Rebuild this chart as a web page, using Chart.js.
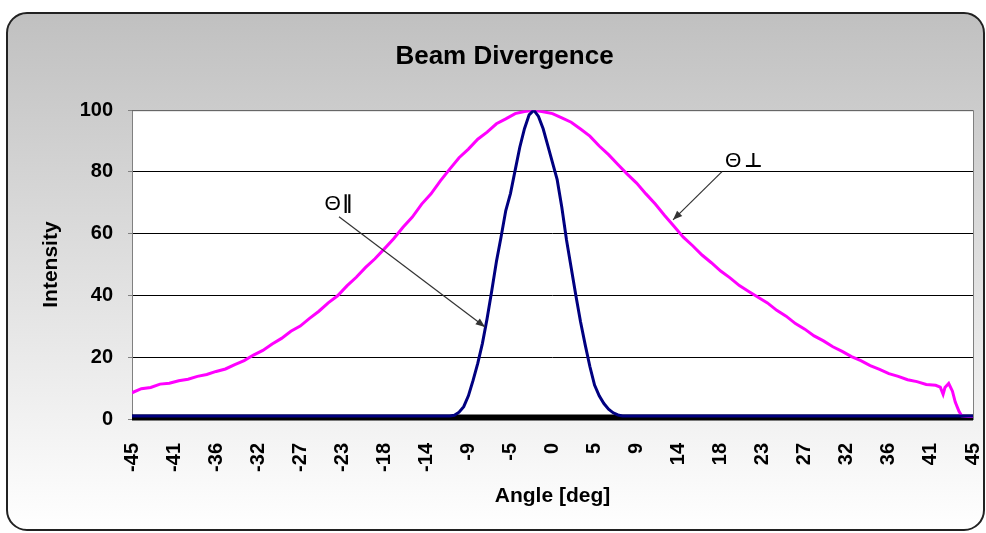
<!DOCTYPE html>
<html><head><meta charset="utf-8">
<script src="https://cdn.jsdelivr.net/npm/chart.js@4.4.1/dist/chart.umd.min.js"></script>
<style>html,body{margin:0;padding:0;background:#fff}canvas{display:block}</style>
</head><body>
<canvas id="c" width="986" height="533" style="width:986px;height:533px"></canvas>
<script>
// ---- chart texts ----
const chartTitle = 'Beam Divergence';
const xAxisTitle = 'Angle [deg]';
const yAxisTitle = 'Intensity';

// ---- tick labels ----
const xTickValues = [-45,-40.5,-36,-31.5,-27,-22.5,-18,-13.5,-9,-4.5,0,4.5,9,13.5,18,22.5,27,31.5,36,40.5,45];
const xTickLabels = ['-45','-41','-36','-32','-27','-23','-18','-14','-9','-5','0','5','9','14','18','23','27','32','36','41','45'];
const yTickValues = [0,20,40,60,80,100];

// ---- series: Θ⊥ (perpendicular, magenta) ----
const perpAngles = [-45,-44,-43,-42,-41,-40,-39,-38,-37,-36,-35,-34,-33,-32,-31,-30,-29,-28,-27,-26,-25,-24,-23,-22,-21,-20,-19,-18,-17,-16,-15,-14,-13,-12,-11,-10,-9,-8,-7,-6,-5,-4,-3,-2,-1,0,1,2,3,4,5,6,7,8,9,10,11,12,13,14,15,16,17,18,19,20,21,22,23,24,25,26,27,28,29,30,31,32,33,34,35,36,37,38,39,40,41,41.5,41.8,42,42.4,42.8,43.1,43.5,43.8,44.5,45];
const perpValues = [8.5,9.8,10.2,11.3,11.6,12.4,12.9,13.8,14.4,15.4,16.2,17.6,18.9,20.7,22.2,24.3,26.1,28.4,30.1,32.6,34.9,37.6,39.9,43.1,45.9,49.1,51.9,55.1,58.4,62.1,65.4,69.6,72.9,77.1,80.9,84.6,87.4,90.6,92.9,95.6,97.2,98.9,99.6,100,99.5,98.9,97.5,96.1,93.9,91.6,88.4,85.6,82.4,79.3,76.4,72.9,69.6,65.9,62.4,58.9,56.1,53.1,50.6,47.9,45.7,43.2,41.3,39.4,37.6,35.2,33.3,30.9,29.1,26.9,25.3,23.4,21.9,20.2,18.9,17.3,16.1,14.7,13.8,12.7,12.1,11.2,10.9,10.3,8.0,10.2,11.5,9.0,5.5,2.5,1.0,0.8,0.8];

// ---- series: Θ∥ (parallel, navy) ----
const parAngles = [-45,-35,-25,-15,-11,-10.5,-10,-9.5,-9,-8.5,-8,-7.5,-7,-6.5,-6,-5.5,-5,-4.5,-4,-3.5,-3,-2.5,-2,-1.5,-1,-0.5,0,0.5,1,1.5,2,2.5,3,3.5,4,4.5,5,5.5,6,6.5,7,7.5,15,25,35,45];
const parValues = [1.0,1.0,1.0,1.0,1.0,1.2,2.2,4.0,7.5,12.5,18.0,24.5,32.5,41.5,51.0,59.0,67.5,73.0,80.5,88.0,94.0,98.5,100,98.0,94.0,88.5,83.0,77.5,68.5,58.0,49.0,40.0,31.5,24.0,17.0,11.0,7.5,5.0,3.2,2.0,1.3,1.0,1.0,1.0,1.0,1.0];

// ---- annotation texts ----
const annoSymbol = 'Θ';
const annoParSub = '∥';
const annoPerpSub = '⊥';

const FONT = "'Liberation Sans', Arial, sans-serif";

const annotations = [
  {sub: annoParSub, text: {x: -24.4, y: 69.7}, from: {x: -22.85, y: 65.5}, to: {x: -7.22, y: 29.8}, subDx: 18, subDy: 0, subFont: "bold 19px 'DejaVu Sans', sans-serif"},
  {sub: annoPerpSub, text: {x: 18.46, y: 83.5}, from: {x: 18.14, y: 80.1}, to: {x: 12.9, y: 64.5}, subDx: 19, subDy: 1, subFont: "bold 20px 'DejaVu Sans', sans-serif"}
];

const bgPlugin = {
  id: 'bg',
  beforeDraw(chart) {
    const {ctx, chartArea: a} = chart;
    ctx.save();
    const x0 = 7, y0 = 13, x1 = 984, y1 = 530, r = 20;
    const g = ctx.createLinearGradient(0, y0, 0, y1);
    g.addColorStop(0, '#c0c0c0');
    g.addColorStop(1, '#ffffff');
    ctx.beginPath();
    ctx.roundRect(x0, y0, x1 - x0, y1 - y0, r);
    ctx.fillStyle = g;
    ctx.fill();
    ctx.lineWidth = 2;
    ctx.strokeStyle = '#222';
    ctx.stroke();
    ctx.fillStyle = '#ffffff';
    ctx.fillRect(a.left, a.top, a.right - a.left, a.bottom - a.top);
    ctx.restore();
  },
  beforeDatasetsDraw(chart) {
    const {ctx, chartArea: a} = chart;
    const ys = chart.scales.y;
    ctx.save();
    ctx.strokeStyle = '#808080';
    ctx.lineWidth = 1;
    ctx.strokeRect(a.left + 0.5, a.top + 0.5, a.right - a.left, a.bottom - a.top);
    const z = ys.getPixelForValue(0);
    ctx.fillStyle = '#000';
    ctx.fillRect(a.left, z - 4.5, a.right - a.left, 6);
    ctx.restore();
  }
};

const annoPlugin = {
  id: 'anno',
  afterDatasetsDraw(chart) {
    const {ctx} = chart;
    const xs = chart.scales.x, ys = chart.scales.y;
    ctx.save();
    annotations.forEach(an => {
      const fx = xs.getPixelForValue(an.from.x), fy = ys.getPixelForValue(an.from.y);
      const tx = xs.getPixelForValue(an.to.x), ty = ys.getPixelForValue(an.to.y);
      ctx.strokeStyle = '#333';
      ctx.fillStyle = '#333';
      ctx.lineWidth = 1.2;
      ctx.beginPath();
      ctx.moveTo(fx, fy);
      ctx.lineTo(tx, ty);
      ctx.stroke();
      const ang = Math.atan2(ty - fy, tx - fx);
      const L = 10, W = 0.38;
      ctx.beginPath();
      ctx.moveTo(tx, ty);
      ctx.lineTo(tx - L * Math.cos(ang - W), ty - L * Math.sin(ang - W));
      ctx.lineTo(tx - L * Math.cos(ang + W), ty - L * Math.sin(ang + W));
      ctx.closePath();
      ctx.fill();
      const px = xs.getPixelForValue(an.text.x), py = ys.getPixelForValue(an.text.y);
      ctx.fillStyle = '#000';
      ctx.textBaseline = 'middle';
      ctx.textAlign = 'left';
      ctx.font = '21px ' + FONT;
      ctx.fillText(annoSymbol, px, py);
      ctx.font = an.subFont;
      ctx.fillText(an.sub, px + an.subDx, py + an.subDy);
    });
    ctx.restore();
  }
};

const toPts = (xs, ys) => xs.map((x, i) => ({x: x, y: ys[i]}));

new Chart(document.getElementById('c'), {
  type: 'line',
  data: {
    datasets: [
      {label: 'Θ∥', data: toPts(parAngles, parValues), borderColor: '#000080', borderWidth: 3, pointRadius: 0, tension: 0, fill: false},
      {label: 'Θ⊥', data: toPts(perpAngles, perpValues), borderColor: '#ff00ff', borderWidth: 3, pointRadius: 0, tension: 0, fill: false}
    ]
  },
  options: {
    responsive: false,
    animation: false,
    devicePixelRatio: 1,
    layout: {padding: {left: 36, right: 13, top: 0, bottom: 0}},
    plugins: {
      legend: {display: false},
      tooltip: {enabled: false},
      title: {display: true, text: chartTitle, color: '#000', font: {family: FONT, size: 26, weight: 'bold'}, padding: {top: 41, bottom: 38}}
    },
    scales: {
      x: {
        type: 'linear', min: -45, max: 45,
        afterBuildTicks: s => { s.ticks = xTickValues.map(v => ({value: v})); },
        afterFit: s => { s.height = 114; s.paddingRight = 0; s.paddingLeft = 0; },
        grid: {display: false, drawTicks: false},
        border: {display: false},
        ticks: {
          autoSkip: false, maxRotation: 90, minRotation: 90, padding: 24,
          color: '#000', font: {family: FONT, size: 20, weight: 'bold'},
          callback: (v, i) => xTickLabels[i]
        },
        title: {display: true, text: xAxisTitle, color: '#000', font: {family: FONT, size: 21, weight: 'bold'}, padding: {top: 0, bottom: 24}}
      },
      y: {
        min: 0, max: 100,
        afterBuildTicks: s => { s.ticks = yTickValues.map(v => ({value: v})); },
        afterFit: s => { s.width = 96; },
        grid: {
          color: '#000',
          lineWidth: 1,
          tickColor: '#808080', tickWidth: 1, tickLength: 4
        },
        border: {display: false},
        ticks: {padding: 15, color: '#000', font: {family: FONT, size: 20, weight: 'bold'}},
        title: {display: true, text: yAxisTitle, color: '#000', font: {family: FONT, size: 21, weight: 'bold'}, padding: {top: 3, bottom: 0}}
      }
    }
  },
  plugins: [bgPlugin, annoPlugin]
});
</script>
</body></html>
